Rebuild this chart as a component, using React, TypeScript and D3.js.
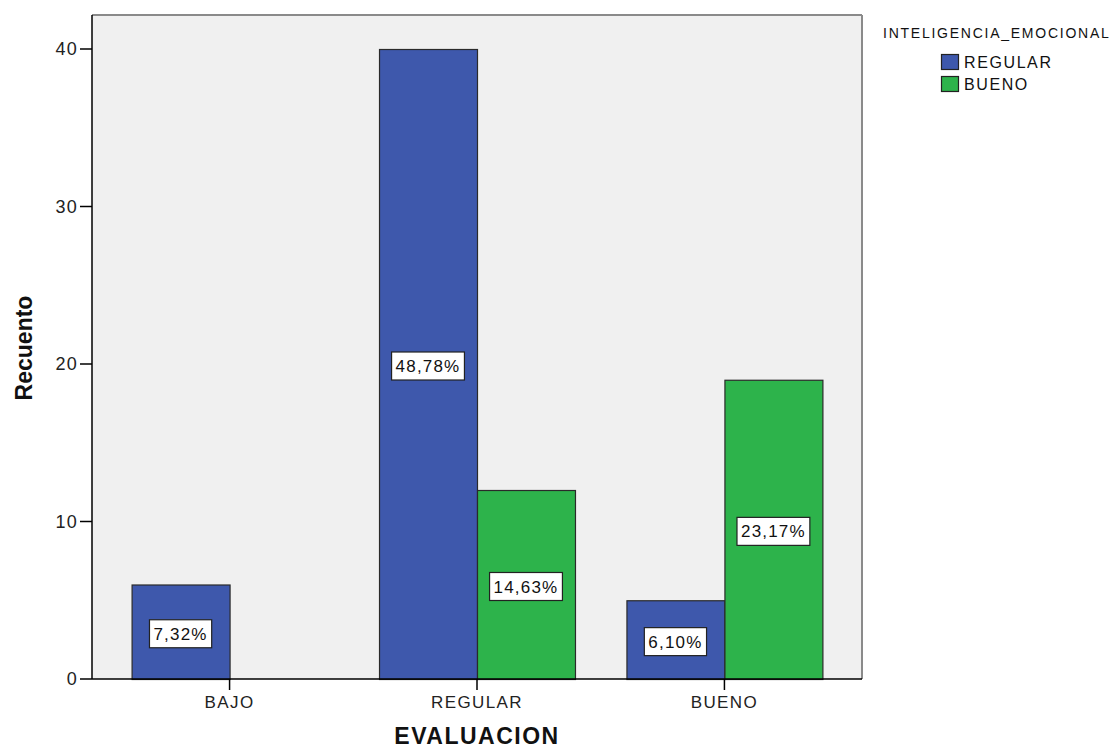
import React, { useEffect, useRef } from "react";
import * as d3 from "d3";

const categories = ["BAJO", "REGULAR", "BUENO"];
const seriesNames = ["REGULAR", "BUENO"];
const regularCounts = [6, 40, 5];
const buenoCounts = [0, 12, 19];
const regularPct = ["7,32%", "48,78%", "6,10%"];
const buenoPct = ["", "14,63%", "23,17%"];
const yTicks = [0, 10, 20, 30, 40];
const colors = ["#3E58AC", "#2DB34B"];

export default function App() {
  const ref = useRef<SVGSVGElement | null>(null);

  useEffect(() => {
    const svg = d3.select(ref.current);
    svg.selectAll("*").remove();
    const W = 1118, H = 751;
    const left = 92, right = 862, top = 15, bottom = 679;
    const font = "Arial, 'Liberation Sans', sans-serif";

    const x0 = d3.scaleBand<string>().domain(categories).range([left, right]).paddingInner(0.208).paddingOuter(0.16);
    const x1 = d3.scaleBand<string>().domain(seriesNames).range([0, x0.bandwidth()]);
    const y = d3.scaleLinear().domain([0, 40]).range([bottom, 49]);

    svg.attr("width", W).attr("height", H);
    svg.append("rect").attr("x", 0).attr("y", 0).attr("width", W).attr("height", H).attr("fill", "#ffffff");
    svg.append("rect").attr("x", left).attr("y", top).attr("width", right - left).attr("height", bottom - top).attr("fill", "#F0F0F0");
    // frame
    svg.append("line").attr("x1", left).attr("x2", right).attr("y1", top).attr("y2", top).attr("stroke", "#8a8a8a").attr("stroke-width", 2);
    svg.append("line").attr("x1", right).attr("x2", right).attr("y1", top).attr("y2", bottom).attr("stroke", "#8a8a8a").attr("stroke-width", 2);

    const data = categories.map((c, i) => ({
      cat: c,
      vals: [
        { s: seriesNames[0], v: regularCounts[i], p: regularPct[i], color: colors[0] },
        { s: seriesNames[1], v: buenoCounts[i], p: buenoPct[i], color: colors[1] },
      ],
    }));

    const g = svg.append("g");
    data.forEach((d) => {
      d.vals.forEach((b) => {
        if (b.v <= 0) return;
        const bx = (x0(d.cat) as number) + (x1(b.s) as number);
        const bw = x1.bandwidth();
        g.append("rect")
          .attr("x", bx + 0.5).attr("y", y(b.v) + 0.5)
          .attr("width", bw).attr("height", bottom - y(b.v))
          .attr("fill", b.color).attr("stroke", "#2a2a2a").attr("stroke-width", 1.2);
      });
    });

    // axes
    svg.append("line").attr("x1", left).attr("x2", left).attr("y1", top).attr("y2", bottom).attr("stroke", "#000").attr("stroke-width", 1.5);
    svg.append("line").attr("x1", left).attr("x2", right).attr("y1", bottom).attr("y2", bottom).attr("stroke", "#000").attr("stroke-width", 1.5);

    yTicks.forEach((t) => {
      svg.append("line").attr("x1", 80).attr("x2", left).attr("y1", y(t)).attr("y2", y(t)).attr("stroke", "#000").attr("stroke-width", 1.5);
      svg.append("text").attr("x", 78).attr("y", y(t) + 6).attr("text-anchor", "end")
        .attr("font-family", font).attr("font-size", 18).attr("letter-spacing", 1.2).attr("fill", "#222").text(String(t));
    });

    categories.forEach((c) => {
      const cx = (x0(c) as number) + x0.bandwidth() / 2;
      svg.append("line").attr("x1", cx).attr("x2", cx).attr("y1", bottom).attr("y2", 690).attr("stroke", "#000").attr("stroke-width", 1.5);
      svg.append("text").attr("x", cx).attr("y", 708).attr("text-anchor", "middle")
        .attr("font-family", font).attr("font-size", 17).attr("letter-spacing", 1.4).attr("fill", "#222").text(c);
    });

    // value labels
    data.forEach((d) => {
      d.vals.forEach((b) => {
        if (b.v <= 0 || !b.p) return;
        const cx = (x0(d.cat) as number) + (x1(b.s) as number) + x1.bandwidth() / 2;
        const cy = (y(b.v) + bottom) / 2 + 2;
        const lg = svg.append("g");
        const rect = lg.append("rect");
        const txt = lg.append("text").attr("x", cx).attr("y", cy + 6).attr("text-anchor", "middle")
          .attr("font-family", font).attr("font-size", 17).attr("letter-spacing", 1.2).attr("fill", "#111").text(b.p);
        const bb = (txt.node() as SVGTextElement).getBBox();
        const w = bb.width + 8;
        rect.attr("x", cx - w / 2).attr("y", cy - 14).attr("width", w).attr("height", 28)
          .attr("fill", "#fff").attr("stroke", "#222").attr("stroke-width", 1.2);
      });
    });

    // axis titles
    svg.append("text").attr("x", 477).attr("y", 744).attr("text-anchor", "middle")
      .attr("font-family", font).attr("font-size", 23).attr("font-weight", "bold").attr("letter-spacing", 1.5).attr("fill", "#111").text("EVALUACION");
    svg.append("text").attr("transform", "translate(32,348) rotate(-90)").attr("text-anchor", "middle")
      .attr("font-family", font).attr("font-size", 23).attr("font-weight", "bold").attr("fill", "#111").text("Recuento");

    // legend
    svg.append("text").attr("x", 883).attr("y", 38).attr("font-family", font).attr("font-size", 14).attr("letter-spacing", 1.75)
      .attr("fill", "#111").text("INTELIGENCIA_EMOCIONAL");
    seriesNames.forEach((s, i) => {
      const ly = 54 + i * 22;
      svg.append("rect").attr("x", 941.5).attr("y", ly + 0.5).attr("width", 17).attr("height", 15)
        .attr("fill", colors[i]).attr("stroke", "#222").attr("stroke-width", 1.2);
      svg.append("text").attr("x", 964).attr("y", ly + 14).attr("font-family", font).attr("font-size", 16).attr("letter-spacing", 1.6)
        .attr("fill", "#111").text(s);
    });
  }, []);

  return (
    <div style={{ position: "fixed", left: 0, top: 0 }}>
      <svg ref={ref} width={1118} height={751} style={{ display: "block" }} />
    </div>
  );
}
